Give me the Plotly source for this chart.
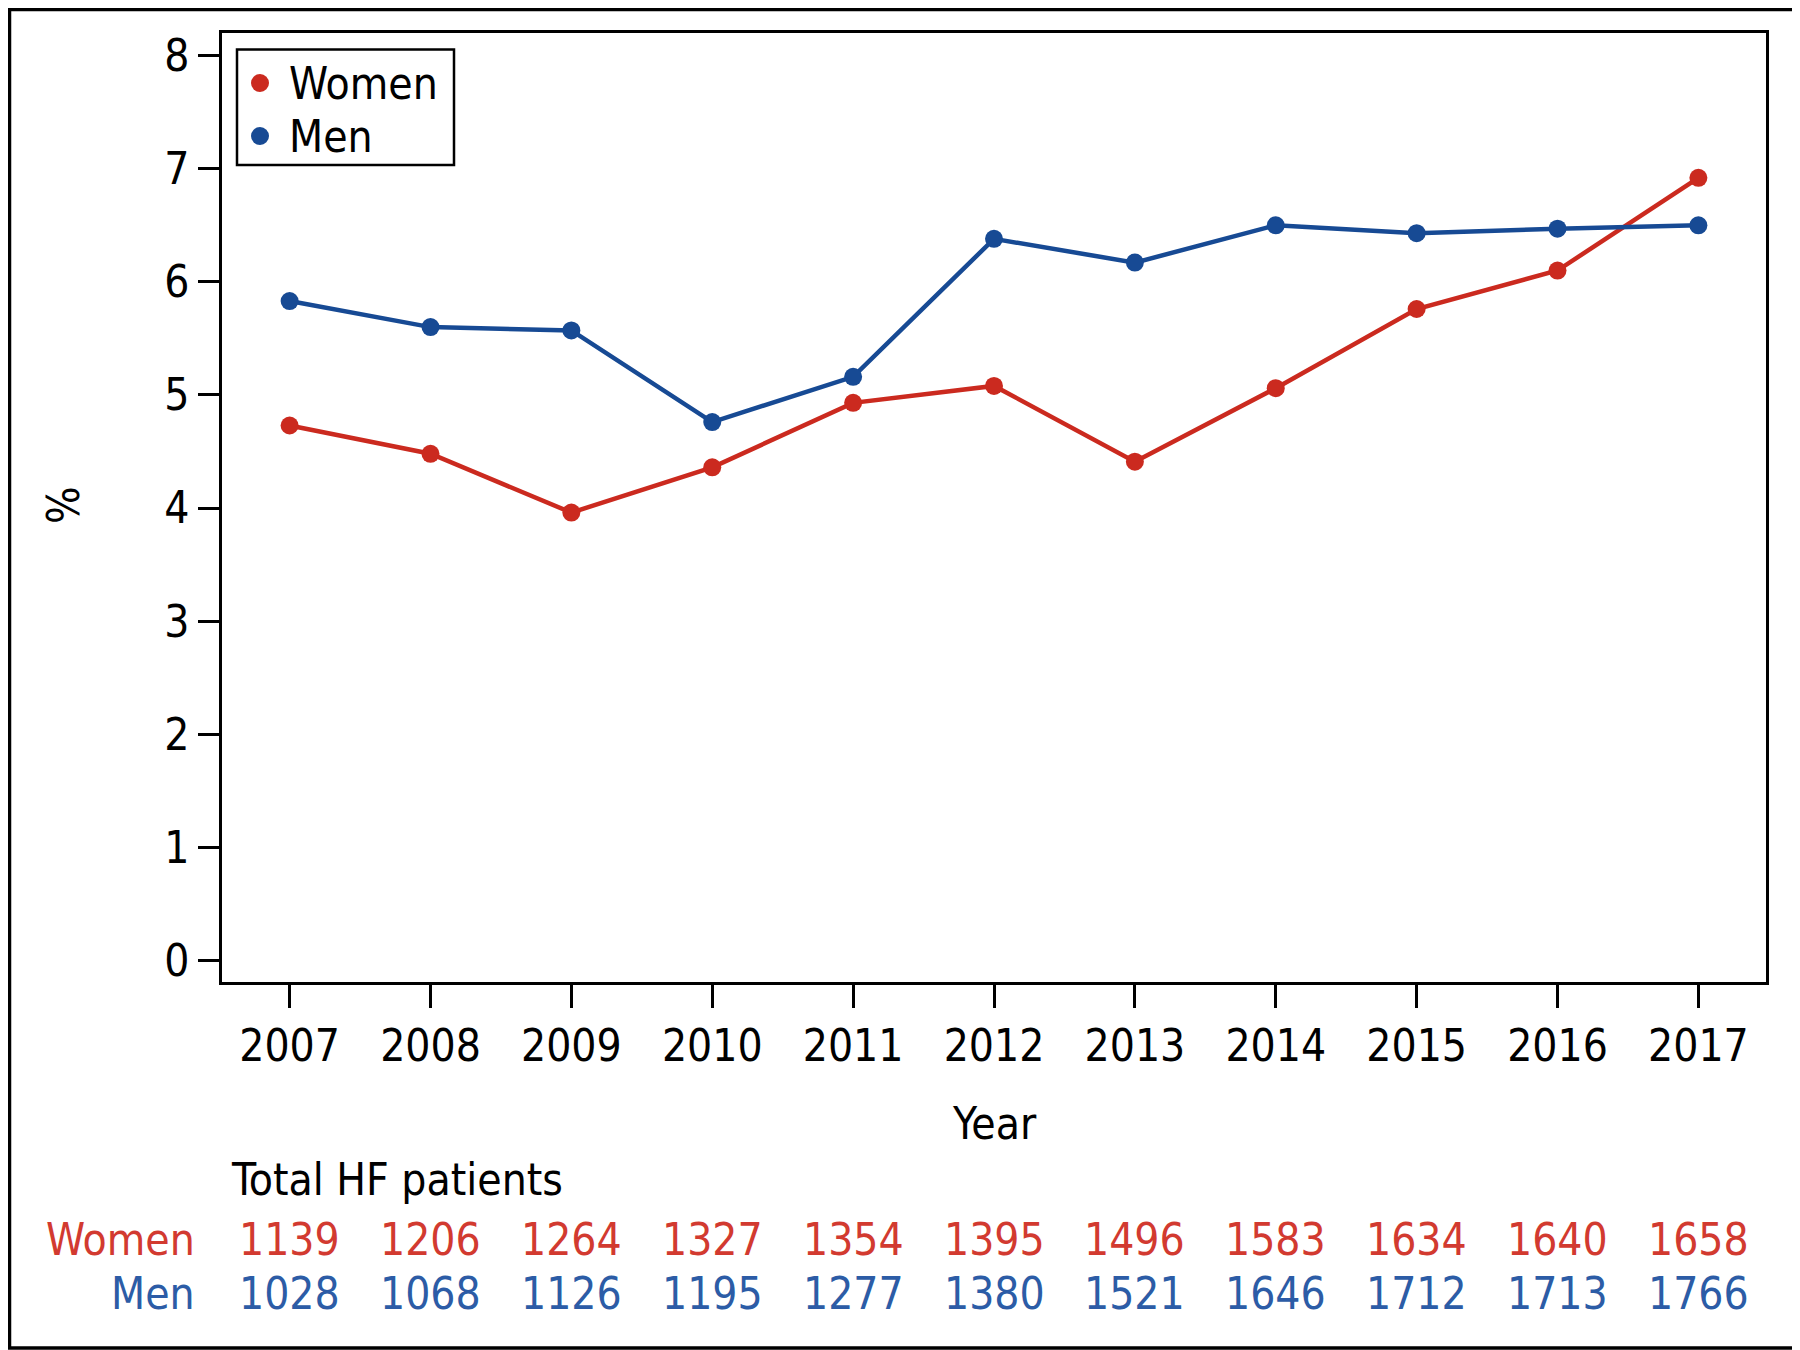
import plotly.graph_objects as go

years = [2007, 2008, 2009, 2010, 2011, 2012, 2013, 2014, 2015, 2016, 2017]
women_pct = [4.73, 4.48, 3.96, 4.36, 4.93, 5.08, 4.41, 5.06, 5.76, 6.10, 6.92]
men_pct = [5.83, 5.60, 5.57, 4.76, 5.16, 6.38, 6.17, 6.50, 6.43, 6.47, 6.50]
women_n = [1139, 1206, 1264, 1327, 1354, 1395, 1496, 1583, 1634, 1640, 1658]
men_n = [1028, 1068, 1126, 1195, 1277, 1380, 1521, 1646, 1712, 1713, 1766]
y_ticks = [0, 1, 2, 3, 4, 5, 6, 7, 8]
series_names = ["Women", "Men"]

RED = "#cb2a1f"
BLUE = "#174a94"
RED_TXT = "#d23a30"
BLUE_TXT = "#2c5ca6"
FONT = "DejaVu Sans Condensed, DejaVu Sans, sans-serif"
FS = 44

# page body adds an 8px offset; figure is sized so it ends at the window edge
OFF = 8
W, H = 1800 - OFF, 1350 - OFF
ML, MR, MT, MB = 222 - OFF, 34, 33 - OFF, 368
pw = W - ML - MR
ph = H - MT - MB


def px(X):  # screen x -> paper
    return (X - OFF - ML) / pw


def py(Y):  # screen y -> paper
    return (H + OFF - MB - Y) / ph


fig = go.Figure()
fig.add_trace(go.Scatter(x=years, y=women_pct, mode="lines+markers", name=series_names[0],
                         line=dict(color=RED, width=4.5), marker=dict(color=RED, size=18),
                         showlegend=False))
fig.add_trace(go.Scatter(x=years, y=men_pct, mode="lines+markers", name=series_names[1],
                         line=dict(color=BLUE, width=4.5), marker=dict(color=BLUE, size=18),
                         showlegend=False))

annotations = []
annotations.append(dict(text="Year", x=0.5, y=py(1123), xref="paper", yref="paper",
                        showarrow=False, xanchor="center", yanchor="middle",
                        font=dict(family=FONT, size=FS, color="black")))
annotations.append(dict(text="%", x=px(63), y=py(505), xref="paper", yref="paper",
                        showarrow=False, textangle=-90, xanchor="center", yanchor="middle",
                        font=dict(family=FONT, size=FS, color="black")))
annotations.append(dict(text="Total HF patients", x=px(229), y=py(1179), xref="paper", yref="paper",
                        showarrow=False, xanchor="left", yanchor="middle",
                        font=dict(family=FONT, size=FS, color="black")))
annotations.append(dict(text=series_names[0], x=px(197), y=py(1239), xref="paper", yref="paper",
                        showarrow=False, xanchor="right", yanchor="middle",
                        font=dict(family=FONT, size=FS, color=RED_TXT)))
annotations.append(dict(text=series_names[1], x=px(197), y=py(1293), xref="paper", yref="paper",
                        showarrow=False, xanchor="right", yanchor="middle",
                        font=dict(family=FONT, size=FS, color=BLUE_TXT)))
for yr, wn, mn in zip(years, women_n, men_n):
    annotations.append(dict(text=str(wn), x=yr, y=py(1239), xref="x", yref="paper",
                            showarrow=False, xanchor="center", yanchor="middle",
                            font=dict(family=FONT, size=FS, color=RED_TXT)))
    annotations.append(dict(text=str(mn), x=yr, y=py(1293), xref="x", yref="paper",
                            showarrow=False, xanchor="center", yanchor="middle",
                            font=dict(family=FONT, size=FS, color=BLUE_TXT)))

# manual legend
annotations.append(dict(text=series_names[0], x=px(287), y=py(83), xref="paper", yref="paper",
                        showarrow=False, xanchor="left", yanchor="middle",
                        font=dict(family=FONT, size=FS, color="black")))
annotations.append(dict(text=series_names[1], x=px(287), y=py(136), xref="paper", yref="paper",
                        showarrow=False, xanchor="left", yanchor="middle",
                        font=dict(family=FONT, size=FS, color="black")))

shapes = [
    # outer frame
    dict(type="rect", xref="paper", yref="paper",
         x0=px(OFF + 1.5), x1=px(1798), y0=py(1348), y1=py(OFF + 1.5),
         line=dict(color="black", width=3.5), fillcolor="rgba(0,0,0,0)", layer="above"),
    # legend box
    dict(type="rect", xref="paper", yref="paper",
         x0=px(237), x1=px(454), y0=py(165), y1=py(49.5),
         line=dict(color="black", width=2.5), fillcolor="white", layer="above"),
    dict(type="circle", xref="paper", yref="paper",
         x0=px(260 - 9), x1=px(260 + 9), y0=py(83 + 9), y1=py(83 - 9),
         line=dict(width=0), fillcolor=RED, layer="above"),
    dict(type="circle", xref="paper", yref="paper",
         x0=px(260 - 9), x1=px(260 + 9), y0=py(136 + 9), y1=py(136 - 9),
         line=dict(width=0), fillcolor=BLUE, layer="above"),
]

fig.update_layout(
    width=W, height=H,
    margin=dict(l=ML, r=MR, t=MT, b=MB),
    paper_bgcolor="white", plot_bgcolor="white",
    font=dict(family=FONT, size=FS, color="black"),
    annotations=annotations,
    shapes=shapes,
    showlegend=False,
    xaxis=dict(range=[2006.52, 2017.48], tickvals=years, ticktext=[str(y) for y in years],
               showgrid=False, zeroline=False, showline=True, linecolor="black", linewidth=2.5,
               mirror=True, ticks="outside", ticklen=23, tickwidth=2.5, tickcolor="black",
               tickfont=dict(family=FONT, size=FS, color="black")),
    yaxis=dict(range=[-0.19, 8.2], tickvals=y_ticks, ticktext=[str(v) for v in y_ticks],
               showgrid=False, zeroline=False, showline=True, linecolor="black", linewidth=2.5,
               mirror=True, ticks="outside", ticklen=21, tickwidth=2.5, tickcolor="black",
               tickfont=dict(family=FONT, size=FS, color="black")),
)

fig.write_html("out.html")
